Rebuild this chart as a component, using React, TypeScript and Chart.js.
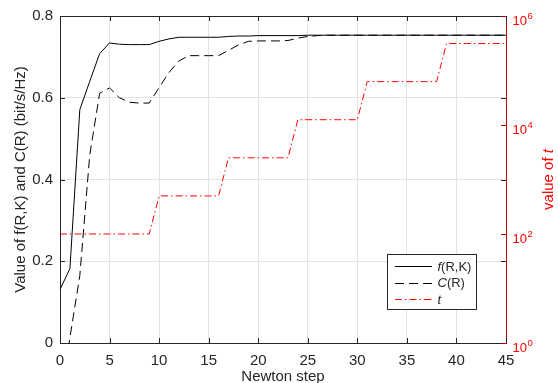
import React, { useEffect, useRef } from 'react';
import { Chart, registerables } from 'chart.js';

Chart.register(...registerables);

// ---------------- data ----------------
const steps = [
  0, 1, 2, 3, 4, 5, 6, 7, 8, 9, 10, 11, 12, 13, 14, 15, 16, 17, 18, 19, 20, 21, 22,
  23, 24, 25, 26, 27, 28, 29, 30, 31, 32, 33, 34, 35, 36, 37, 38, 39, 40, 41, 42, 43, 44, 45,
];

const fValues = [
  0.131, 0.182, 0.571, 0.640, 0.708, 0.734, 0.731, 0.730, 0.730, 0.730, 0.738, 0.744, 0.748,
  0.748, 0.748, 0.748, 0.748, 0.750, 0.751, 0.751, 0.752, 0.752, 0.752, 0.752, 0.752, 0.753,
  0.753, 0.753, 0.753, 0.753, 0.753, 0.753, 0.753, 0.753, 0.753, 0.753, 0.753, 0.753, 0.753,
  0.753, 0.753, 0.753, 0.753, 0.753, 0.753, 0.753,
];

const cValues = [
  -0.15, 0.013, 0.165, 0.46, 0.611, 0.624, 0.600, 0.589, 0.587, 0.587, 0.625, 0.662, 0.690,
  0.703, 0.703, 0.703, 0.703, 0.716, 0.729, 0.738, 0.739, 0.739, 0.739, 0.740, 0.746, 0.750,
  0.752, 0.753, 0.753, 0.753, 0.753, 0.753, 0.753, 0.753, 0.753, 0.753, 0.753, 0.753, 0.753,
  0.753, 0.753, 0.753, 0.753, 0.753, 0.753, 0.753,
];

const tValues = [
  100, 100, 100, 100, 100, 100, 100, 100, 100, 100,
  500, 500, 500, 500, 500, 500, 500,
  2500, 2500, 2500, 2500, 2500, 2500, 2500,
  12500, 12500, 12500, 12500, 12500, 12500, 12500,
  62500, 62500, 62500, 62500, 62500, 62500, 62500, 62500,
  312500, 312500, 312500, 312500, 312500, 312500, 312500,
];

const xTickValues = [0, 5, 10, 15, 20, 25, 30, 35, 40, 45];
const yTickValues = [0, 0.2, 0.4, 0.6, 0.8];
const rightTickValues = [1, 100, 10000, 1000000];
const rightTickExponents = ['0', '2', '4', '6'];

const xTitle = 'Newton step';
const yTitle = 'Value of f(R,K) and C(R) (bit/s/Hz)';
const rightTitleParts = [
  { text: 'value of ', italic: false },
  { text: 't', italic: true },
];
const legendEntries = [
  { parts: [{ text: 'f', italic: true }, { text: '(R,K)', italic: false }] },
  { parts: [{ text: 'C', italic: true }, { text: '(R)', italic: false }] },
  { parts: [{ text: 't', italic: true }] },
];

// ---------------- style ----------------
const FONT = '"Liberation Sans", Arial, Helvetica, sans-serif';
const AXIS_COLOR = '#262626';
const RED = '#ff0000';
const RED_AXIS = '#c80000';
const GRID = '#e3e3e3';
const DASH_C = [9, 5];
const DASH_T = [7, 3, 1.5, 3];
const TICK_LEN = 5;

const overlayPlugin = {
  id: 'overlay',
  afterDraw(chart: any) {
    const ctx: CanvasRenderingContext2D = chart.ctx;
    const area = chart.chartArea;
    const xs = chart.scales.x;
    const ys = chart.scales.y;
    const y2 = chart.scales.y2;
    ctx.save();

    // top border
    ctx.strokeStyle = AXIS_COLOR;
    ctx.lineWidth = 1;
    ctx.beginPath();
    ctx.moveTo(area.left, area.top + 0.5);
    ctx.lineTo(area.right, area.top + 0.5);
    ctx.stroke();

    // inward ticks x (bottom & top)
    ctx.beginPath();
    xTickValues.forEach((v) => {
      const px = Math.round(xs.getPixelForValue(v)) + 0.5;
      ctx.moveTo(px, area.bottom);
      ctx.lineTo(px, area.bottom - TICK_LEN);
      ctx.moveTo(px, area.top);
      ctx.lineTo(px, area.top + TICK_LEN);
    });
    // inward ticks left y (left side and right side black)
    yTickValues.forEach((v) => {
      const py = Math.round(ys.getPixelForValue(v)) + 0.5;
      ctx.moveTo(area.left, py);
      ctx.lineTo(area.left + TICK_LEN, py);
      ctx.moveTo(area.right, py);
      ctx.lineTo(area.right - TICK_LEN, py);
    });
    ctx.stroke();

    // right red ticks + labels
    ctx.strokeStyle = RED_AXIS;
    ctx.beginPath();
    rightTickValues.forEach((v) => {
      const py = Math.round(y2.getPixelForValue(v)) + 0.5;
      ctx.moveTo(area.right, py);
      ctx.lineTo(area.right - TICK_LEN, py);
    });
    ctx.stroke();
    ctx.fillStyle = RED;
    ctx.textAlign = 'left';
    ctx.textBaseline = 'alphabetic';
    rightTickValues.forEach((v, i) => {
      const py = y2.getPixelForValue(v);
      ctx.font = `13px ${FONT}`;
      const bx = area.right + 6.5;
      ctx.fillText('10', bx, py + 8.5);
      const w = ctx.measureText('10').width;
      ctx.font = `9.5px ${FONT}`;
      ctx.fillText(rightTickExponents[i], bx + w + 0.5, py + 2.5);
    });

    // left title
    ctx.fillStyle = AXIS_COLOR;
    ctx.font = `15px ${FONT}`;
    ctx.textAlign = 'center';
    ctx.save();
    ctx.translate(25, (area.top + area.bottom) / 2);
    ctx.rotate(-Math.PI / 2);
    ctx.fillText(yTitle, 0, 0);
    ctx.restore();

    // bottom title
    ctx.fillText(xTitle, (area.left + area.right) / 2, 381);

    // right title
    ctx.fillStyle = RED;
    ctx.textAlign = 'left';
    ctx.save();
    ctx.translate(553, (area.top + area.bottom) / 2);
    ctx.rotate(-Math.PI / 2);
    let total = 0;
    const widths = rightTitleParts.map((p) => {
      ctx.font = `${p.italic ? 'italic ' : ''}15px ${FONT}`;
      const w = ctx.measureText(p.text).width;
      total += w;
      return w;
    });
    let cx = -total / 2;
    rightTitleParts.forEach((p, i) => {
      ctx.font = `${p.italic ? 'italic ' : ''}15px ${FONT}`;
      ctx.fillText(p.text, cx, 0);
      cx += widths[i];
    });
    ctx.restore();

    // legend
    const lx0 = 387.5, ly0 = 254.5, lw = 89, lh = 55;
    ctx.fillStyle = '#ffffff';
    ctx.fillRect(lx0, ly0, lw, lh);
    ctx.strokeStyle = AXIS_COLOR;
    ctx.lineWidth = 1;
    ctx.setLineDash([]);
    ctx.strokeRect(lx0, ly0, lw, lh);
    const rowY = [266, 282.5, 299];
    const styles = [
      { color: '#000000', dash: [] as number[] },
      { color: '#000000', dash: DASH_C },
      { color: RED, dash: DASH_T },
    ];
    legendEntries.forEach((entry, i) => {
      const y = Math.round(rowY[i]) + 0.5;
      ctx.strokeStyle = styles[i].color;
      ctx.setLineDash(styles[i].dash);
      ctx.beginPath();
      ctx.moveTo(395, y);
      ctx.lineTo(432, y);
      ctx.stroke();
      ctx.setLineDash([]);
      ctx.fillStyle = AXIS_COLOR;
      ctx.textAlign = 'left';
      ctx.textBaseline = 'middle';
      let tx = 437.5;
      entry.parts.forEach((p) => {
        ctx.font = `${p.italic ? 'italic ' : ''}13px ${FONT}`;
        ctx.fillText(p.text, tx, rowY[i] + 1);
        tx += ctx.measureText(p.text).width;
      });
    });

    ctx.restore();
  },
};

export default function App() {
  const canvasRef = useRef<HTMLCanvasElement | null>(null);

  useEffect(() => {
    document.body.style.margin = '0';
    const canvas = canvasRef.current;
    if (!canvas) return;
    Chart.defaults.font.family = FONT;

    const chart = new Chart(canvas, {
      type: 'line',
      data: {
        labels: steps,
        datasets: [
          {
            label: 'f(R,K)',
            data: steps.map((s, i) => ({ x: s, y: fValues[i] })),
            borderColor: '#000000',
            borderWidth: 1,
            pointRadius: 0,
            fill: false,
            tension: 0,
            yAxisID: 'y',
          },
          {
            label: 'C(R)',
            data: steps.map((s, i) => ({ x: s, y: cValues[i] })),
            borderColor: '#000000',
            borderWidth: 1,
            borderDash: DASH_C,
            pointRadius: 0,
            fill: false,
            tension: 0,
            yAxisID: 'y',
          },
          {
            label: 't',
            data: steps.map((s, i) => ({ x: s, y: tValues[i] })),
            borderColor: RED,
            borderWidth: 1,
            borderDash: DASH_T,
            pointRadius: 0,
            fill: false,
            tension: 0,
            yAxisID: 'y2',
          },
        ],
      },
      options: {
        animation: false,
        responsive: false,
        maintainAspectRatio: false,
        layout: { padding: { top: 14, left: 0, right: 0, bottom: 0 } },
        plugins: {
          legend: { display: false },
          tooltip: { enabled: false },
        },
        scales: {
          x: {
            type: 'linear',
            min: 0,
            max: 45,
            afterFit: (s: any) => { s.height = 40; },
            afterBuildTicks: (s: any) => { s.ticks = xTickValues.map((v) => ({ value: v })); },
            ticks: {
              color: AXIS_COLOR,
              font: { size: 15, family: FONT },
              padding: 9,
              maxRotation: 0,
              callback: (v: any) => String(v),
            },
            grid: { color: GRID, drawTicks: false, lineWidth: 1 },
            border: { color: AXIS_COLOR, width: 1 },
          },
          y: {
            type: 'linear',
            position: 'left',
            min: 0,
            max: 0.8,
            afterFit: (s: any) => { s.width = 60; },
            afterBuildTicks: (s: any) => { s.ticks = yTickValues.map((v) => ({ value: v })); },
            ticks: {
              color: AXIS_COLOR,
              font: { size: 15, family: FONT },
              padding: 7,
              callback: (v: any) => String(Math.round(Number(v) * 10) / 10),
            },
            grid: { color: GRID, drawTicks: false, lineWidth: 1 },
            border: { color: AXIS_COLOR, width: 1 },
          },
          y2: {
            type: 'logarithmic',
            position: 'right',
            min: 1,
            max: 1000000,
            afterFit: (s: any) => { s.width = 52; },
            ticks: { display: false },
            grid: { display: false, drawTicks: false },
            border: { color: RED_AXIS, width: 1 },
          },
        },
      },
      plugins: [overlayPlugin],
    } as any);

    return () => chart.destroy();
  }, []);

  return (
    <div style={{ width: 558, height: 383 }}>
      <canvas ref={canvasRef} width={558} height={383} style={{ display: 'block' }} />
    </div>
  );
}
